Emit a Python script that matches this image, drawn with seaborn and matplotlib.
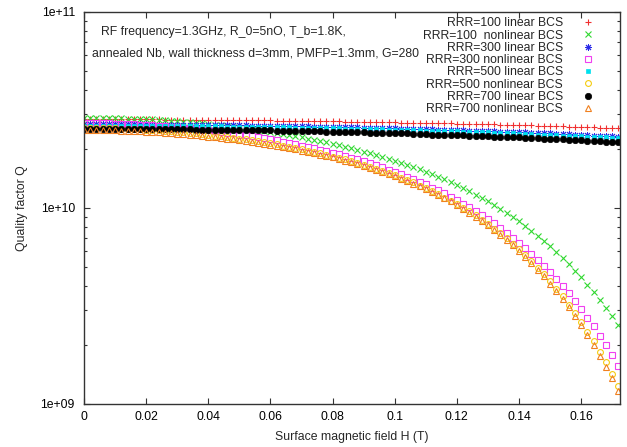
import matplotlib
matplotlib.use("Agg")
import matplotlib.pyplot as plt
from matplotlib.ticker import FixedLocator, FuncFormatter, LogLocator, NullFormatter
import seaborn as sns
import pandas as pd

# Surface magnetic field H (T)
H = [0.000, 0.002, 0.004, 0.006, 0.008, 0.010, 0.012, 0.014, 0.016, 0.018,
     0.020, 0.022, 0.024, 0.026, 0.028, 0.030, 0.032, 0.034, 0.036, 0.038,
     0.040, 0.042, 0.044, 0.046, 0.048, 0.050, 0.052, 0.054, 0.056, 0.058,
     0.060, 0.062, 0.064, 0.066, 0.068, 0.070, 0.072, 0.074, 0.076, 0.078,
     0.080, 0.082, 0.084, 0.086, 0.088, 0.090, 0.092, 0.094, 0.096, 0.098,
     0.100, 0.102, 0.104, 0.106, 0.108, 0.110, 0.112, 0.114, 0.116, 0.118,
     0.120, 0.122, 0.124, 0.126, 0.128, 0.130, 0.132, 0.134, 0.136, 0.138,
     0.140, 0.142, 0.144, 0.146, 0.148, 0.150, 0.152, 0.154, 0.156, 0.158,
     0.160, 0.162, 0.164, 0.166, 0.168, 0.170, 0.172]

# Quality factor Q, in units of 1e10
rrr100_linear = [2.83, 2.83, 2.83, 2.83, 2.83, 2.83, 2.83, 2.83, 2.83, 2.83,
                 2.83, 2.83, 2.83, 2.82, 2.82, 2.82, 2.82, 2.82, 2.82, 2.82,
                 2.81, 2.81, 2.81, 2.81, 2.81, 2.81, 2.80, 2.80, 2.80, 2.80,
                 2.80, 2.79, 2.79, 2.79, 2.79, 2.78, 2.78, 2.78, 2.78, 2.77,
                 2.77, 2.77, 2.76, 2.76, 2.76, 2.75, 2.75, 2.75, 2.74, 2.74,
                 2.74, 2.73, 2.73, 2.72, 2.72, 2.72, 2.71, 2.71, 2.70, 2.70,
                 2.69, 2.69, 2.69, 2.68, 2.68, 2.67, 2.67, 2.66, 2.66, 2.65,
                 2.65, 2.64, 2.64, 2.63, 2.62, 2.62, 2.61, 2.61, 2.60, 2.60,
                 2.59, 2.58, 2.58, 2.57, 2.56, 2.56, 2.55]

rrr100_nonlinear = [2.89, 2.89, 2.89, 2.89, 2.88, 2.88, 2.87, 2.86, 2.86, 2.85,
                    2.84, 2.83, 2.81, 2.80, 2.79, 2.77, 2.76, 2.74, 2.72, 2.70,
                    2.68, 2.66, 2.64, 2.62, 2.60, 2.57, 2.55, 2.52, 2.50, 2.47,
                    2.44, 2.41, 2.38, 2.35, 2.32, 2.29, 2.26, 2.23, 2.19, 2.16,
                    2.12, 2.09, 2.05, 2.02, 1.98, 1.94, 1.90, 1.86, 1.82, 1.78,
                    1.74, 1.70, 1.66, 1.62, 1.58, 1.53, 1.49, 1.44, 1.40, 1.36,
                    1.31, 1.27, 1.22, 1.17, 1.13, 1.08, 1.04, 0.990, 0.945, 0.899,
                    0.854, 0.809, 0.765, 0.722, 0.679, 0.637, 0.596, 0.556, 0.517, 0.479,
                    0.442, 0.407, 0.373, 0.340, 0.310, 0.280, 0.253]

rrr300_linear = [2.67, 2.67, 2.67, 2.67, 2.67, 2.67, 2.67, 2.67, 2.67, 2.67,
                 2.67, 2.66, 2.66, 2.66, 2.66, 2.66, 2.66, 2.66, 2.65, 2.65,
                 2.65, 2.65, 2.65, 2.64, 2.64, 2.64, 2.64, 2.63, 2.63, 2.63,
                 2.63, 2.62, 2.62, 2.62, 2.61, 2.61, 2.61, 2.60, 2.60, 2.60,
                 2.59, 2.59, 2.58, 2.58, 2.58, 2.57, 2.57, 2.56, 2.56, 2.55,
                 2.55, 2.54, 2.54, 2.53, 2.53, 2.52, 2.52, 2.51, 2.51, 2.50,
                 2.50, 2.49, 2.48, 2.48, 2.47, 2.47, 2.46, 2.45, 2.45, 2.44,
                 2.43, 2.43, 2.42, 2.41, 2.40, 2.40, 2.39, 2.38, 2.38, 2.37,
                 2.36, 2.35, 2.34, 2.34, 2.33, 2.32, 2.31]

rrr300_nonlinear = [2.70, 2.70, 2.70, 2.70, 2.70, 2.69, 2.68, 2.68, 2.67, 2.66,
                    2.65, 2.64, 2.62, 2.61, 2.60, 2.58, 2.56, 2.55, 2.53, 2.51,
                    2.49, 2.47, 2.44, 2.42, 2.40, 2.37, 2.35, 2.32, 2.29, 2.27,
                    2.24, 2.21, 2.18, 2.15, 2.12, 2.08, 2.05, 2.02, 1.98, 1.95,
                    1.91, 1.88, 1.84, 1.80, 1.77, 1.73, 1.69, 1.65, 1.61, 1.57,
                    1.53, 1.49, 1.44, 1.40, 1.36, 1.32, 1.27, 1.23, 1.19, 1.14,
                    1.10, 1.05, 1.01, 0.967, 0.923, 0.879, 0.835, 0.792, 0.749, 0.707,
                    0.666, 0.625, 0.585, 0.546, 0.508, 0.471, 0.435, 0.400, 0.367, 0.335,
                    0.305, 0.276, 0.249, 0.223, 0.199, 0.177, 0.156]

rrr500_linear = [2.63, 2.63, 2.63, 2.63, 2.63, 2.63, 2.63, 2.63, 2.63, 2.63,
                 2.63, 2.62, 2.62, 2.62, 2.62, 2.62, 2.62, 2.62, 2.61, 2.61,
                 2.61, 2.61, 2.61, 2.60, 2.60, 2.60, 2.60, 2.59, 2.59, 2.59,
                 2.59, 2.58, 2.58, 2.58, 2.57, 2.57, 2.57, 2.56, 2.56, 2.56,
                 2.55, 2.55, 2.54, 2.54, 2.54, 2.53, 2.53, 2.52, 2.52, 2.51,
                 2.51, 2.50, 2.50, 2.49, 2.49, 2.48, 2.48, 2.47, 2.47, 2.46,
                 2.46, 2.45, 2.44, 2.44, 2.43, 2.43, 2.42, 2.41, 2.41, 2.40,
                 2.39, 2.39, 2.38, 2.37, 2.36, 2.36, 2.35, 2.34, 2.34, 2.33,
                 2.32, 2.31, 2.30, 2.30, 2.29, 2.28, 2.27]

rrr500_nonlinear = [2.56, 2.56, 2.56, 2.55, 2.55, 2.55, 2.54, 2.53, 2.53, 2.52,
                    2.51, 2.50, 2.49, 2.47, 2.46, 2.45, 2.43, 2.42, 2.40, 2.38,
                    2.36, 2.34, 2.32, 2.30, 2.28, 2.26, 2.24, 2.21, 2.19, 2.16,
                    2.14, 2.11, 2.08, 2.05, 2.02, 1.99, 1.96, 1.93, 1.90, 1.87,
                    1.83, 1.80, 1.77, 1.73, 1.70, 1.66, 1.62, 1.58, 1.55, 1.51,
                    1.47, 1.43, 1.39, 1.35, 1.30, 1.26, 1.22, 1.18, 1.13, 1.09,
                    1.05, 1.00, 0.960, 0.916, 0.872, 0.828, 0.785, 0.742, 0.699, 0.657,
                    0.616, 0.575, 0.535, 0.497, 0.459, 0.422, 0.387, 0.354, 0.321, 0.291,
                    0.262, 0.234, 0.209, 0.185, 0.163, 0.143, 0.124]

rrr700_linear = [2.53, 2.53, 2.53, 2.53, 2.53, 2.53, 2.53, 2.53, 2.53, 2.53,
                 2.53, 2.52, 2.52, 2.52, 2.52, 2.52, 2.52, 2.52, 2.51, 2.51,
                 2.51, 2.51, 2.51, 2.50, 2.50, 2.50, 2.50, 2.49, 2.49, 2.49,
                 2.49, 2.48, 2.48, 2.48, 2.47, 2.47, 2.47, 2.46, 2.46, 2.45,
                 2.45, 2.45, 2.44, 2.44, 2.43, 2.43, 2.42, 2.42, 2.42, 2.41,
                 2.41, 2.40, 2.40, 2.39, 2.39, 2.38, 2.37, 2.37, 2.36, 2.36,
                 2.35, 2.35, 2.34, 2.33, 2.33, 2.32, 2.31, 2.31, 2.30, 2.29,
                 2.29, 2.28, 2.27, 2.27, 2.26, 2.25, 2.24, 2.24, 2.23, 2.22,
                 2.21, 2.20, 2.20, 2.19, 2.18, 2.17, 2.16]

rrr700_nonlinear = [2.50, 2.50, 2.50, 2.50, 2.49, 2.49, 2.48, 2.48, 2.47, 2.46,
                    2.45, 2.44, 2.43, 2.42, 2.41, 2.39, 2.38, 2.36, 2.35, 2.33,
                    2.31, 2.30, 2.28, 2.26, 2.24, 2.21, 2.19, 2.17, 2.15, 2.12,
                    2.10, 2.07, 2.04, 2.02, 1.99, 1.96, 1.93, 1.90, 1.87, 1.84,
                    1.81, 1.77, 1.74, 1.71, 1.67, 1.64, 1.60, 1.56, 1.53, 1.49,
                    1.45, 1.41, 1.37, 1.33, 1.29, 1.25, 1.21, 1.16, 1.12, 1.08,
                    1.04, 0.991, 0.948, 0.904, 0.860, 0.817, 0.773, 0.730, 0.688, 0.646,
                    0.604, 0.564, 0.524, 0.485, 0.448, 0.411, 0.377, 0.343, 0.311, 0.281,
                    0.252, 0.225, 0.200, 0.176, 0.155, 0.135, 0.117]

labels = ["RRR=100 linear BCS", "RRR=100  nonlinear BCS",
          "RRR=300 linear BCS", "RRR=300 nonlinear BCS",
          "RRR=500 linear BCS", "RRR=500 nonlinear BCS",
          "RRR=700 linear BCS", "RRR=700 nonlinear BCS"]

x_ticks = [0, 0.02, 0.04, 0.06, 0.08, 0.1, 0.12, 0.14, 0.16]
y_ticks = [1e9, 1e10, 1e11]

note_line1 = "RF frequency=1.3GHz, R_0=5nO, T_b=1.8K,"
note_line2 = "annealed Nb, wall thickness d=3mm, PMFP=1.3mm, G=280"

UNIT = 1e10
series = [rrr100_linear, rrr100_nonlinear, rrr300_linear, rrr300_nonlinear,
          rrr500_linear, rrr500_nonlinear, rrr700_linear, rrr700_nonlinear]

styles = [
    dict(marker='+', markersize=5.0, markeredgewidth=0.8, color='#f03030', markeredgecolor='#f03030'),
    dict(marker='x', markersize=4.0, markeredgewidth=0.8, color='#30d830', markeredgecolor='#30d830'),
    dict(marker=(8, 2, 0), markersize=5.0, markeredgewidth=0.7, color='#2a2ae8', markeredgecolor='#2a2ae8'),
    dict(marker='s', markersize=4.2, markeredgewidth=0.8, color='#f040f0', markeredgecolor='#f040f0',
         markerfacecolor='none'),
    dict(marker='s', markersize=3.4, markeredgewidth=0.5, color='#00e0ee', markeredgecolor='#00e0ee',
         markerfacecolor='#00e0ee'),
    dict(marker='o', markersize=4.2, markeredgewidth=0.8, color='#f5cc10', markeredgecolor='#f5cc10',
         markerfacecolor='none'),
    dict(marker='o', markersize=4.6, markeredgewidth=0.5, color='black', markeredgecolor='black',
         markerfacecolor='black'),
    dict(marker='^', markersize=4.4, markeredgewidth=0.8, color='#f08020', markeredgecolor='#f08020',
         markerfacecolor='none'),
]

sns.set_theme(style="ticks")
plt.rcParams['font.family'] = ['Liberation Sans', 'DejaVu Sans']
FS = 8.8

fig = plt.figure(figsize=(6.27, 4.47), dpi=100)
fig.patch.set_facecolor('white')
ax = fig.add_axes([84 / 627, 43 / 447, 536 / 627, 392 / 447])
ax.set_facecolor('white')

for vals, lab, st in zip(series, labels, styles):
    df = pd.DataFrame({"H": H, "Q": [v * UNIT for v in vals]})
    sns.lineplot(data=df, x="H", y="Q", ax=ax, label=lab, linestyle='',
                 estimator=None, sort=False, **st)

ax.set_yscale('log')
ax.set_ylim(1e9, 1e11)
ax.set_xlim(0, 0.1725)
ax.xaxis.set_major_locator(FixedLocator(x_ticks))
ax.xaxis.set_major_formatter(FuncFormatter(lambda v, p: f"{v:g}"))
ax.yaxis.set_major_locator(FixedLocator(y_ticks))
ax.yaxis.set_major_formatter(FuncFormatter(lambda v, p: f"{v:.0e}"))
ax.yaxis.set_minor_locator(LogLocator(base=10, subs=range(2, 10), numticks=20))
ax.yaxis.set_minor_formatter(NullFormatter())

ax.tick_params(which='both', direction='in', top=True, right=True,
               labelsize=FS, width=0.8, color='#333333', labelcolor='black')
ax.tick_params(which='major', length=4.5)
ax.tick_params(which='minor', length=2.5)
ax.tick_params(axis='y', pad=6.5)
ax.tick_params(axis='x', pad=5.0)
for sp in ax.spines.values():
    sp.set_linewidth(1.0)
    sp.set_color('#333333')

ax.set_xlabel("Surface magnetic field H (T)", fontsize=FS)
ax.set_ylabel("Quality factor Q", fontsize=FS)
ax.xaxis.set_label_coords(0.5, -0.068)
ax.yaxis.set_label_coords(-0.105, 0.5)

fig.text(101 / 627, 1 - 31.7 / 447, note_line1, fontsize=FS, ha='left', va='center')
fig.text(92 / 627, 1 - 54 / 447, note_line2, fontsize=FS, ha='left', va='center')

ax.legend(loc='upper right', bbox_to_anchor=(594 / 627, 1 - 17.5 / 447),
          bbox_transform=fig.transFigure, frameon=False, markerfirst=False,
          handlelength=1.0, handletextpad=1.55, borderpad=0, borderaxespad=0,
          labelspacing=0.02, fontsize=FS, numpoints=1)

fig.savefig("out.png", dpi=100)
